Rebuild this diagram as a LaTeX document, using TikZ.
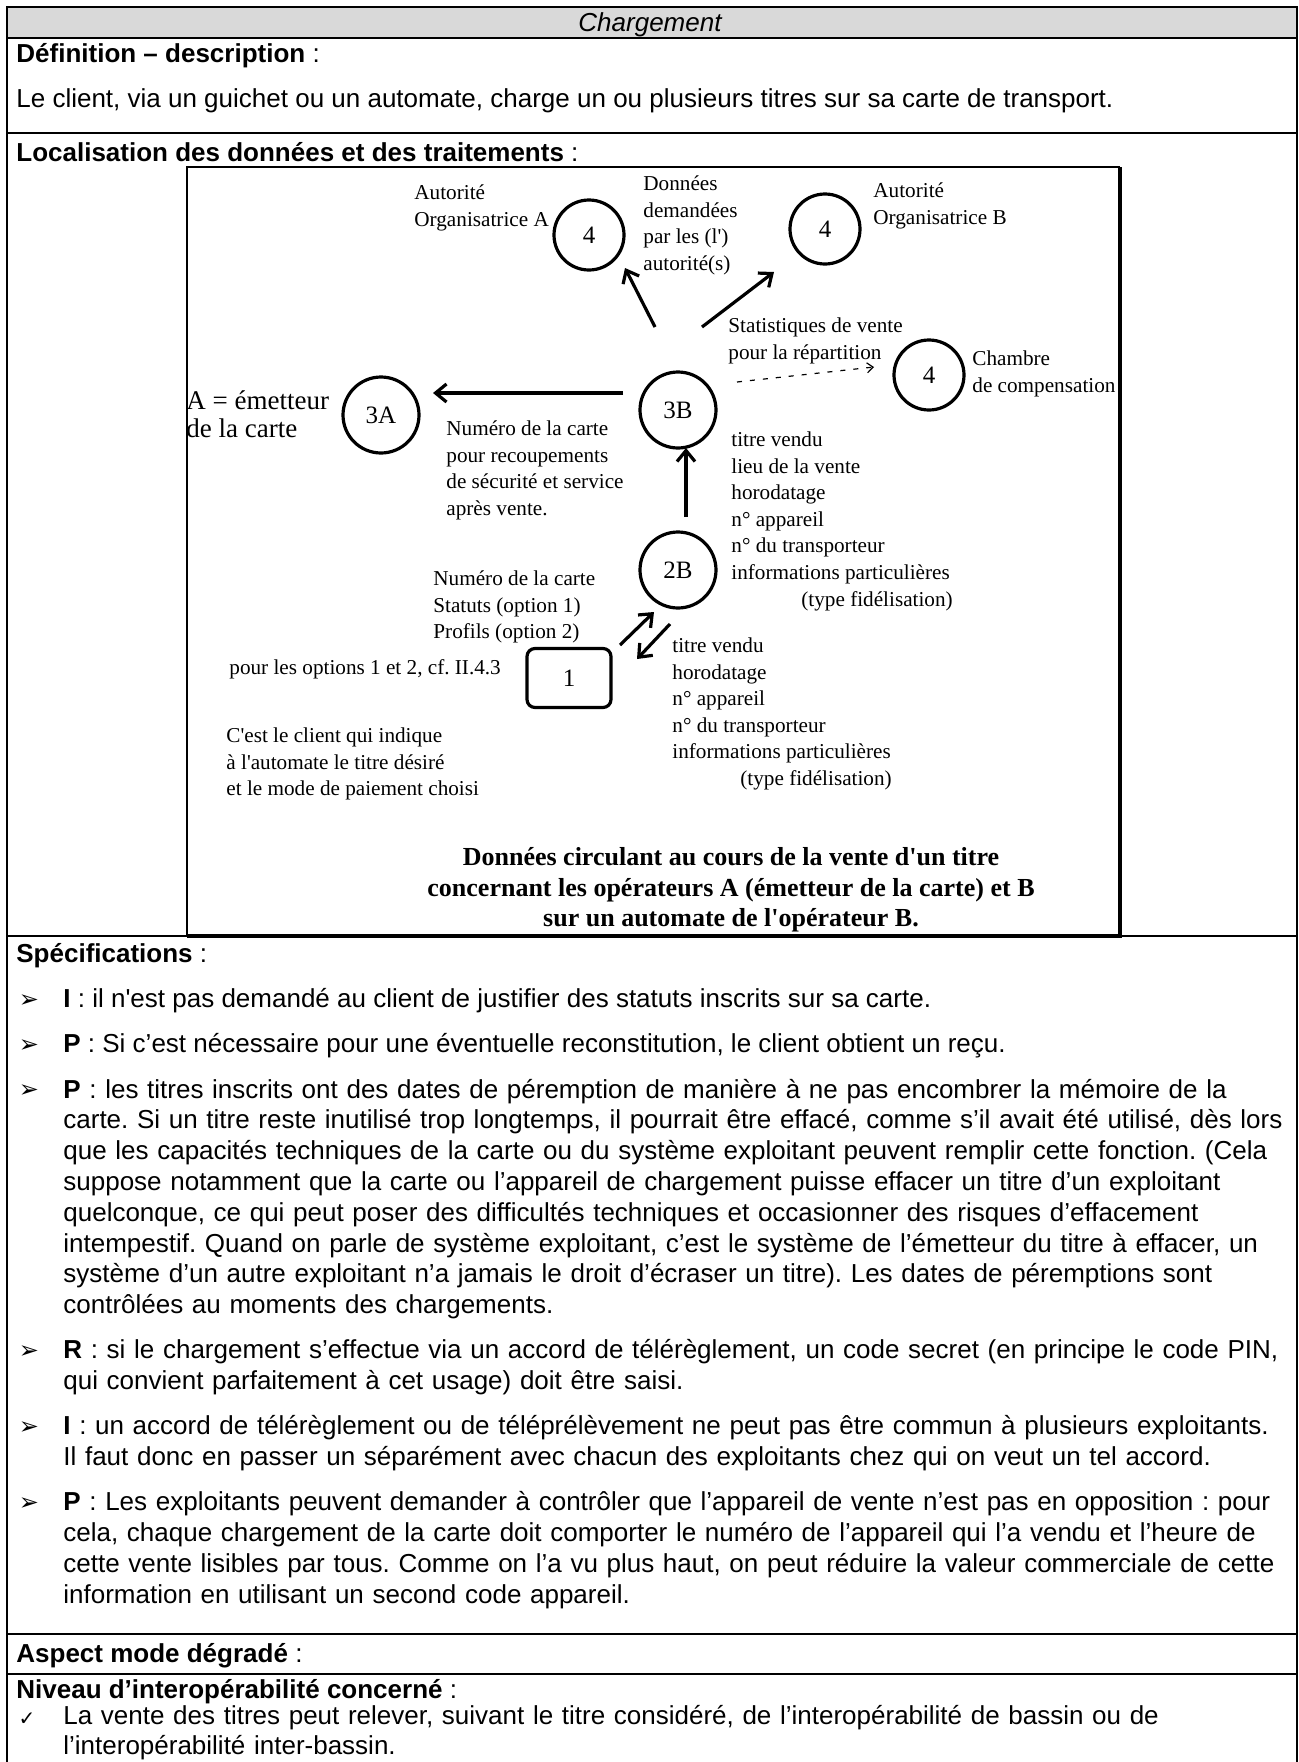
\documentclass[tikz,border=0pt]{standalone}
\usepackage{fontspec}
\setmainfont{Liberation Sans}[WordSpace={1,1.5,1.6}]
\newfontfamily\diagfont{Liberation Serif}
\newfontfamily\symbfont{DejaVu Sans}
\usetikzlibrary{arrows.meta}
\definecolor{headgray}{RGB}{217,217,217}
\newlength\specw
\setlength\specw{614pt}
% one justified line of a specification paragraph
\newcommand\jl[1]{\makebox[\specw][s]{#1}}
\newcommand\bodysize{\fontsize{13}{15.4}\selectfont}
\newcommand\diagsize{\diagfont\fontsize{10.6}{13.3}\selectfont}
\frenchspacing

\begin{document}
\begin{tikzpicture}[x=0.5pt,y=-0.5pt,
  rule/.style={line width=1pt},
  heading/.style={anchor=base west, inner sep=0pt, font=\bodysize},
  para/.style={anchor=north west, inner sep=0pt, text width=614pt, align=left, font=\bodysize},
  bulletmark/.style={anchor=base, inner sep=0pt, font=\symbfont\fontsize{12}{12}\selectfont},
  bubble/.style={circle, draw, line width=1.6pt, minimum size=35pt, inner sep=0pt,
                 font=\diagfont\fontsize{12.5}{14}\selectfont},
  lab/.style={anchor=north west, inner sep=0pt, align=left, font=\diagsize},
  flow/.style={line width=1.6pt, -{Straight Barb[length=5.5pt,width=9pt]}},
]
\useasboundingbox (0,0) rectangle (1298,1762);

% ---- table frame ----
\fill[headgray] (7,7) rectangle (1297,38);
\draw[rule] (7,1762) -- (7,7) -- (1297,7) -- (1297,1762);
\foreach \yy in {38,133,936,1634,1674} \draw[rule] (7,\yy) -- (1297,\yy);

\node[anchor=base, inner sep=0pt, font=\bodysize\itshape] (title) at (650,31.3) {Chargement};
\node[heading] (hdef) at (16,62.3) {\textbf{Définition – description} :};
\node[heading] (def) at (16,107.3) {Le client, via un guichet ou un automate, charge un ou plusieurs titres sur sa carte de transport.};
\node[heading] (hloc) at (16,161.3) {\textbf{Localisation des données et des traitements} :};

% ---- diagram frame ----
\draw[line width=1pt] (187,936) -- (187,167) -- (1120,167);
\draw[line width=2pt] (1120,167) -- (1120,936) -- (187,936);

% processing nodes
\node[bubble] (autA) at (589,235) {4};
\node[bubble] (autB) at (825,229) {4};
\node[bubble] (ccomp) at (929,375) {4};
\node[bubble, minimum size=38pt] (n3A) at (381,415) {3A};
\node[bubble, minimum size=38pt] (n3B) at (678,410) {3B};
\node[bubble, minimum size=38pt] (n2B) at (678,570) {2B};
\node[draw, rounded corners=4pt, line width=1.6pt, minimum width=42pt, minimum height=29.5pt,
      inner sep=0pt, font=\diagfont\fontsize{12.5}{14}\selectfont] (n1) at (569,678) {1};

% flow end points
\coordinate (fA0) at (655,327);  \coordinate (fA1) at (625,268);
\coordinate (fB0) at (702,327);  \coordinate (fB1) at (774,272);
\coordinate (fC0) at (737,382);  \coordinate (fC1) at (874,367);
\coordinate (f3A0) at (623,393); \coordinate (f3A1) at (433,393);
\coordinate (f3B0) at (686,517); \coordinate (f3B1) at (686,448);
\coordinate (fup0) at (620,645); \coordinate (fup1) at (654,612);
\coordinate (fdn0) at (670,624); \coordinate (fdn1) at (637,659);

\draw[flow] (fA0) -- (fA1);
\draw[flow] (fB0) -- (fB1);
\draw[line width=0.6pt, dash pattern=on 2.5pt off 4pt, -{Straight Barb[length=3pt,width=5pt]}] (fC0) -- (fC1);
\draw[flow] (f3A0) -- (f3A1);
\draw[flow] (f3B0) -- (f3B1);
\draw[flow] (fup0) -- (fup1);
\draw[flow] (fdn0) -- (fdn1);

% labels
\node[lab] (lautA) at (414,180.4) {\strut Autorité\\Organisatrice A};
\node[lab] (ldem) at (643,171.4) {\strut Données\\demandées\\par les (l')\\autorité(s)};
\node[lab] (lautB) at (873,178.4) {\strut Autorité\\Organisatrice B};
\node[lab] (lstat) at (728,313.4) {\strut Statistiques de vente\\pour la répartition};
\node[lab] (lcomp) at (972,346.4) {\strut Chambre\\de compensation};
\node[anchor=north west, inner sep=0pt, align=left, font=\diagfont\fontsize{13.5}{14}\selectfont] (lemet) at (186,389.3) {\strut A = émetteur\\de la carte};
\node[lab] (lnum) at (446,416.4) {\strut Numéro de la carte\\pour recoupements\\de sécurité et service\\après vente.};
\node[lab] (lvente) at (731,427.4) {\strut titre vendu\\lieu de la vente\\horodatage\\n° appareil\\n° du transporteur\\informations particulières\\\hspace*{35pt}(type fidélisation)};
\node[lab] (lcarte) at (433,566.4) {\strut Numéro de la carte\\Statuts (option 1)\\Profils (option 2)};
\node[lab] (lopt) at (229,655.4) {\strut pour les options 1 et 2, cf. II.4.3};
\node[lab] (ltitre) at (672,633.4) {\strut titre vendu\\horodatage\\n° appareil\\n° du transporteur\\informations particulières\\\hspace*{34pt}(type fidélisation)};
\node[lab] (lclient) at (226,723.4) {\strut C'est le client qui indique\\à l'automate le titre désiré\\et le mode de paiement choisi};
\node[anchor=north, inner sep=0pt, align=center, font=\diagfont\bfseries\fontsize{13}{15.25}\selectfont] (caption) at (731,844.2)
  {\strut Données circulant au cours de la vente d'un titre\\concernant les opérateurs A (émetteur de la carte) et B\\sur un automate de l'opérateur B.};

% ---- specifications ----
\node[heading] (hspec) at (16,962.3) {\textbf{Spécifications} :};

\node[bulletmark] (m1) at (29,1007.3) {➢};
\node[heading] (s1) at (63,1007.3) {\textbf{I} : il n\textquotesingle est pas demandé au client de justifier des statuts inscrits sur sa carte.};

\node[bulletmark] (m2) at (29,1052.5) {➢};
\node[heading] (s2) at (63,1052.5) {\textbf{P} : Si c’est nécessaire pour une éventuelle reconstitution, le client obtient un reçu.};

\node[bulletmark] (m3) at (29,1097.7) {➢};
\node[para] (s3) at (63,1076.1) {%
\jl{\strut\textbf{P} : les titres inscrits ont des dates de péremption de manière à ne pas encombrer la mémoire de la}\\
\jl{carte. Si un titre reste inutilisé trop longtemps, il pourrait être effacé, comme s’il avait été utilisé, dès lors}\\
\jl{que les capacités techniques de la carte ou du système exploitant peuvent remplir cette fonction. (Cela}\\
\jl{suppose notamment que la carte ou l’appareil de chargement puisse effacer un titre d’un exploitant}\\
\jl{quelconque, ce qui peut poser des difficultés techniques et occasionner des risques d’effacement}\\
\jl{intempestif. Quand on parle de système exploitant, c’est le système de l’émetteur du titre à effacer, un}\\
\jl{système d’un autre exploitant n’a jamais le droit d’écraser un titre). Les dates de péremptions sont}\\
contrôlées au moments des chargements.};

\node[bulletmark] (m4) at (29,1358.5) {➢};
\node[para] (s4) at (63,1336.9) {%
\jl{\strut\textbf{R} : si le chargement s’effectue via un accord de télérèglement, un code secret (en principe le code PIN,}\\
qui convient parfaitement à cet usage) doit être saisi.};

\node[bulletmark] (m5) at (29,1434.5) {➢};
\node[para] (s5) at (63,1412.9) {%
\jl{\strut\textbf{I} : un accord de télérèglement ou de téléprélèvement ne peut pas être commun à plusieurs exploitants.}\\
Il faut donc en passer un séparément avec chacun des exploitants chez qui on veut un tel accord.};

\node[bulletmark] (m6) at (29,1510.5) {➢};
\node[para] (s6) at (63,1488.9) {%
\jl{\strut\textbf{P} : Les exploitants peuvent demander à contrôler que l’appareil de vente n’est pas en opposition : pour}\\
\jl{cela, chaque chargement de la carte doit comporter le numéro de l’appareil qui l’a vendu et l’heure de}\\
\jl{cette vente lisibles par tous. Comme on l’a vu plus haut, on peut réduire la valeur commerciale de cette}\\
information en utilisant un second code appareil.};

% ---- degraded mode and interoperability ----
\node[heading] (hdeg) at (16,1662.3) {\textbf{Aspect mode dégradé} :};
\node[heading] (hniv) at (16,1698.3) {\textbf{Niveau d’interopérabilité concerné} :};
\node[bulletmark, font=\symbfont\fontsize{10}{11}\selectfont] (m7) at (27,1725.6) {✓};
\node[para, font=\fontsize{13}{14.6}\selectfont] (s7) at (63,1704) {%
\jl{\strut La vente des titres peut relever, suivant le titre considéré, de l’interopérabilité de bassin ou de}\\
l’interopérabilité inter-bassin.};
\end{tikzpicture}
\end{document}
